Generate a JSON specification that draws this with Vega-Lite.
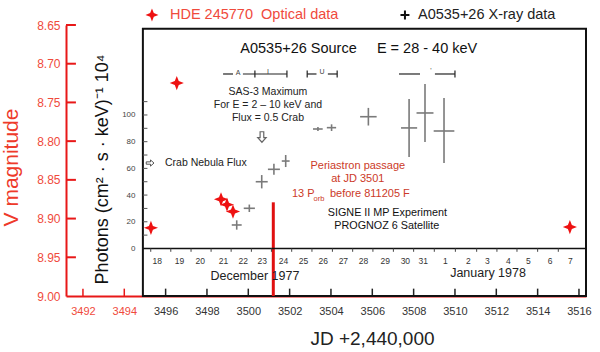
{
"$schema": "https://vega.github.io/schema/vega-lite/v6.json",
"width": 520, "height": 271,
"autosize": {"type": "none"},
"padding": {"left": 66, "top": 25, "right": 14, "bottom": 56},
"background": "white",
"config": {"font": "Liberation Sans", "view": {"stroke": null}, "axis": {"grid": false}},
"datasets": {
 "box": [{"jd": 3494.9, "jd2": 3516.34, "v": 8.655, "v2": 9.0}],
 "periastron": [{"jd": 3501.21, "v": 8.879, "v2": 9.0}],
 "vTicks": [{"jd": 3491.18, "jd2": 3491.66, "v": 8.65}, {"jd": 3491.18, "jd2": 3491.66, "v": 8.7}, {"jd": 3491.18, "jd2": 3491.66, "v": 8.75}, {"jd": 3491.18, "jd2": 3491.66, "v": 8.8}, {"jd": 3491.18, "jd2": 3491.66, "v": 8.85}, {"jd": 3491.18, "jd2": 3491.66, "v": 8.9}, {"jd": 3491.18, "jd2": 3491.66, "v": 8.95}],
 "xTicksRed": [{"jd": 3492, "v": 9.0, "v2": 8.9905}, {"jd": 3494, "v": 9.0, "v2": 8.9905}],
 "xTicksBlack": [{"jd": 3496, "v": 9.0, "v2": 8.9905}, {"jd": 3498, "v": 9.0, "v2": 8.9905}, {"jd": 3500, "v": 9.0, "v2": 8.9905}, {"jd": 3502, "v": 9.0, "v2": 8.9905}, {"jd": 3504, "v": 9.0, "v2": 8.9905}, {"jd": 3506, "v": 9.0, "v2": 8.9905}, {"jd": 3508, "v": 9.0, "v2": 8.9905}, {"jd": 3510, "v": 9.0, "v2": 8.9905}, {"jd": 3512, "v": 9.0, "v2": 8.9905}, {"jd": 3514, "v": 9.0, "v2": 8.9905}, {"jd": 3516, "v": 9.0, "v2": 8.9905}],
 "stars": [{"jd": 3495.29, "v": 8.912}, {"jd": 3496.54, "v": 8.725}, {"jd": 3498.68, "v": 8.875}, {"jd": 3498.97, "v": 8.882}, {"jd": 3499.26, "v": 8.891}, {"jd": 3515.56, "v": 8.911}],
 "legendStar": [{"jd": 3495.34, "v": 8.637}],
 "legendPlus": [{"jd": 3507.58, "v": 8.637}],
 "legendOptical": [{"jd": 3496.21, "v": 8.637, "label": "HDE 245770\u00a0\u00a0Optical data"}],
 "legendXray": [{"jd": 3508.21, "v": 8.637, "label": "A0535+26 X-ray data"}],
 "fTicks": [{"jd": 3494.9, "jd2": 3495.12, "f": 0}, {"jd": 3494.9, "jd2": 3495.12, "f": 10}, {"jd": 3494.9, "jd2": 3495.12, "f": 20}, {"jd": 3494.9, "jd2": 3495.12, "f": 30}, {"jd": 3494.9, "jd2": 3495.12, "f": 40}, {"jd": 3494.9, "jd2": 3495.12, "f": 50}, {"jd": 3494.9, "jd2": 3495.12, "f": 60}, {"jd": 3494.9, "jd2": 3495.12, "f": 70}, {"jd": 3494.9, "jd2": 3495.12, "f": 80}, {"jd": 3494.9, "jd2": 3495.12, "f": 90}, {"jd": 3494.9, "jd2": 3495.12, "f": 100}, {"jd": 3494.9, "jd2": 3495.12, "f": 110}],
 "xray": [
  {"jd": 3499.44, "f": 17.6, "jlo": 3499.2, "jhi": 3499.68, "flo": 14.1, "fhi": 21.1},
  {"jd": 3500.05, "f": 30.1, "jlo": 3499.78, "jhi": 3500.32, "flo": 27.3, "fhi": 32.9},
  {"jd": 3500.65, "f": 50.0, "jlo": 3500.36, "jhi": 3500.94, "flo": 45.0, "fhi": 55.0},
  {"jd": 3501.24, "f": 59.3, "jlo": 3500.95, "jhi": 3501.53, "flo": 55.2, "fhi": 63.4},
  {"jd": 3501.81, "f": 65.5, "jlo": 3501.62, "jhi": 3502.0, "flo": 61.0, "fhi": 70.0},
  {"jd": 3503.37, "f": 89.5, "jlo": 3503.13, "jhi": 3503.6, "flo": 88.0, "fhi": 91.0},
  {"jd": 3504.03, "f": 90.5, "jlo": 3503.8, "jhi": 3504.25, "flo": 88.0, "fhi": 93.0},
  {"jd": 3505.81, "f": 98.7, "jlo": 3505.41, "jhi": 3506.21, "flo": 92.1, "fhi": 105.3},
  {"jd": 3507.78, "f": 90.3, "jlo": 3507.39, "jhi": 3508.17, "flo": 68.6, "fhi": 112.0},
  {"jd": 3508.55, "f": 101.5, "jlo": 3508.14, "jhi": 3508.96, "flo": 79.8, "fhi": 123.2},
  {"jd": 3509.47, "f": 88.0, "jlo": 3508.97, "jhi": 3509.97, "flo": 64.0, "fhi": 112.7}
 ],
 "upperLimit": [{"jd": 3500.66, "f": 83.5}],
 "crab": [{"jd": 3495.25, "f": 64.0}],
 "crabText": [{"jd": 3495.97, "f": 63.9, "label": "Crab Nebula Flux"}],
 "titleText": [{"jd": 3502.43, "f": 149.4, "label": "A0535+26 Source"}, {"jd": 3508.65, "f": 149.4, "label": "E = 28 - 40 keV"}],
 "sasText": [{"jd": 3500.95, "f": 117.2, "label": "SAS-3 Maximum"}, {"jd": 3500.95, "f": 107.5, "label": "For E = 2 \u2013 10 keV and"}, {"jd": 3500.95, "f": 97.8, "label": "Flux = 0.5 Crab"}],
 "periText": [{"jd": 3505.3, "f": 61.8, "label": "Periastron passage"}, {"jd": 3505.3, "f": 52.0, "label": "at JD 3501"}],
 "periLeft": [{"jd": 3502.11, "f": 40.8, "label": "13 P"}, {"jd": 3503.95, "f": 40.8, "label": "before 811205 F"}],
 "periSub": [{"jd": 3503.16, "f": 37.0, "label": "orb"}],
 "signeText": [{"jd": 3506.73, "f": 26.6, "label": "SIGNE II MP Experiment"}, {"jd": 3506.7, "f": 16.9, "label": "PROGNOZ 6 Satellite"}],
 "innerAxis": [{"jd": 3494.9, "jd2": 3516.34, "f": 0}],
 "dayTicks": [{"jd": 3495.28, "f": 0, "f2": -2.5}, {"jd": 3496.25, "f": 0, "f2": -2.5}, {"jd": 3497.23, "f": 0, "f2": -2.5}, {"jd": 3498.2, "f": 0, "f2": -2.5}, {"jd": 3499.17, "f": 0, "f2": -2.5}, {"jd": 3500.15, "f": 0, "f2": -2.5}, {"jd": 3501.12, "f": 0, "f2": -2.5}, {"jd": 3502.1, "f": 0, "f2": -2.5}, {"jd": 3503.08, "f": 0, "f2": -2.5}, {"jd": 3504.07, "f": 0, "f2": -2.5}, {"jd": 3505.05, "f": 0, "f2": -2.5}, {"jd": 3506.03, "f": 0, "f2": -2.5}, {"jd": 3507.02, "f": 0, "f2": -2.5}, {"jd": 3508.0, "f": 0, "f2": -2.5}, {"jd": 3509.0, "f": 0, "f2": -2.5}, {"jd": 3510.02, "f": 0, "f2": -2.5}, {"jd": 3511.05, "f": 0, "f2": -2.5}, {"jd": 3512.03, "f": 0, "f2": -2.5}, {"jd": 3513.0, "f": 0, "f2": -2.5}, {"jd": 3514.0, "f": 0, "f2": -2.5}, {"jd": 3515.0, "f": 0, "f2": -2.5}],
 "dayLabels": [{"jd": 3495.6, "f": -9.4, "label": "18"}, {"jd": 3496.67, "f": -9.4, "label": "19"}, {"jd": 3497.68, "f": -9.4, "label": "20"}, {"jd": 3498.8, "f": -9.4, "label": "21"}, {"jd": 3499.76, "f": -9.4, "label": "22"}, {"jd": 3500.68, "f": -9.4, "label": "23"}, {"jd": 3501.7, "f": -9.4, "label": "24"}, {"jd": 3502.67, "f": -9.4, "label": "25"}, {"jd": 3503.63, "f": -9.4, "label": "26"}, {"jd": 3504.6, "f": -9.4, "label": "27"}, {"jd": 3505.57, "f": -9.4, "label": "28"}, {"jd": 3506.63, "f": -9.4, "label": "29"}, {"jd": 3507.6, "f": -9.4, "label": "30"}, {"jd": 3508.47, "f": -9.4, "label": "31"}, {"jd": 3509.54, "f": -9.4, "label": "1"}, {"jd": 3510.65, "f": -9.4, "label": "2"}, {"jd": 3511.57, "f": -9.4, "label": "3"}, {"jd": 3512.58, "f": -9.4, "label": "4"}, {"jd": 3513.55, "f": -9.4, "label": "5"}, {"jd": 3514.6, "f": -9.4, "label": "6"}, {"jd": 3515.58, "f": -9.4, "label": "7"}],
 "monthLabels": [{"jd": 3500.32, "f": -20.4, "label": "December 1977"}, {"jd": 3511.6, "f": -18.6, "label": "January 1978"}],
 "bracketSeg": [{"jd": 3498.78, "jd2": 3499.26, "f": 130.7}, {"jd": 3499.74, "jd2": 3501.87, "f": 130.7}, {"jd": 3502.85, "jd2": 3503.3, "f": 130.7}, {"jd": 3503.85, "jd2": 3504.3, "f": 130.7}, {"jd": 3507.29, "jd2": 3508.31, "f": 130.7}, {"jd": 3509.03, "jd2": 3510.0, "f": 130.7}],
 "bracketTicks": [{"jd": 3500.32, "f": 128.1, "f2": 133.3}, {"jd": 3501.87, "f": 128.1, "f2": 133.3}, {"jd": 3502.85, "f": 128.1, "f2": 133.3}, {"jd": 3504.3, "f": 128.1, "f2": 133.3}, {"jd": 3510.0, "f": 128.1, "f2": 133.3}],
 "bracketLabels": [{"jd": 3499.5, "f": 131.5, "label": "A"}, {"jd": 3500.95, "f": 132.5, "label": "I"}, {"jd": 3503.57, "f": 132.5, "label": "U"}, {"jd": 3508.84, "f": 133.0, "label": "'"}]
},
"encoding": {
 "x": {"field": "jd", "type": "quantitative",
  "scale": {"domain": [3491.18, 3516.34], "nice": false, "zero": false},
  "axis": {"values": [3492, 3494, 3496, 3498, 3500, 3502, 3504, 3506, 3508, 3510, 3512, 3514, 3516], "format": "d",
   "domainColor": "#e81818", "domainWidth": 2, "ticks": false,
   "labelColor": {"condition": {"test": "datum.value < 3495", "value": "#f04a3c"}, "value": "#333"},
   "labelFontSize": 11, "labelPadding": 9, "labelFlush": false,
   "title": "JD +2,440,000", "titleFontSize": 19, "titleFontWeight": "normal", "titleColor": "#222",
   "titleX": 306, "titleY": 42, "titleBaseline": "middle", "titleAlign": "center"}}
},
"layer": [
 {
  "encoding": {"y": {"field": "v", "type": "quantitative",
   "scale": {"domain": [8.65, 9.0], "reverse": true, "nice": false, "zero": false},
   "axis": {"orient": "left", "values": [8.65, 8.7, 8.75, 8.8, 8.85, 8.9, 8.95, 9.0], "format": ".2f",
    "domainColor": "#e81818", "domainWidth": 2, "ticks": false,
    "labelPadding": 6, "labelColor": "#f04a3c", "labelFontSize": 12,
    "title": "V magnitude", "titleColor": "#ee3a2a", "titleFontSize": 21, "titleFontWeight": "normal",
    "titleX": -55, "titleY": 142, "titleAngle": -90, "titleAlign": "center", "titleBaseline": "middle"}}},
  "layer": [
   {"data": {"name": "vTicks"}, "mark": {"type": "rule", "color": "#e81818", "strokeWidth": 2},
    "encoding": {"x2": {"field": "jd2"}}},
   {"data": {"name": "xTicksRed"}, "mark": {"type": "rule", "color": "#e81818", "strokeWidth": 1.5},
    "encoding": {"y2": {"field": "v2"}}},
   {"data": {"name": "xTicksBlack"}, "mark": {"type": "rule", "color": "#222", "strokeWidth": 1.5},
    "encoding": {"y2": {"field": "v2"}}},
   {"data": {"name": "box"}, "mark": {"type": "rect", "filled": false, "stroke": "#111", "strokeWidth": 2},
    "encoding": {"x2": {"field": "jd2"}, "y2": {"field": "v2"}}},
   {"data": {"name": "periastron"}, "mark": {"type": "rule", "color": "#e01010", "strokeWidth": 3},
    "encoding": {"y2": {"field": "v2"}}},
   {"data": {"name": "stars"}, "mark": {"type": "point", "shape": "M0,-1L0.28,-0.28L1,0L0.28,0.28L0,1L-0.28,0.28L-1,0L-0.28,-0.28Z", "filled": true, "color": "#ee1111", "opacity": 1, "size": 200},
    "encoding": {}},
   {"data": {"name": "legendStar"}, "mark": {"type": "point", "shape": "M0,-1L0.28,-0.28L1,0L0.28,0.28L0,1L-0.28,0.28L-1,0L-0.28,-0.28Z", "filled": true, "color": "#ee1111", "opacity": 1, "size": 170},
    "encoding": {}},
   {"data": {"name": "legendPlus"}, "mark": {"type": "point", "shape": "M-1,0L1,0M0,-1L0,1", "filled": false, "color": "#111", "strokeWidth": 2, "opacity": 1, "size": 80},
    "encoding": {}},
   {"data": {"name": "legendOptical"}, "mark": {"type": "text", "align": "left", "baseline": "middle", "fontSize": 14.5, "color": "#f04a3c"},
    "encoding": {"text": {"field": "label"}}},
   {"data": {"name": "legendXray"}, "mark": {"type": "text", "align": "left", "baseline": "middle", "fontSize": 14.5, "color": "#222"},
    "encoding": {"text": {"field": "label"}}}
  ]
 },
 {
  "encoding": {"y": {"field": "f", "type": "quantitative",
   "scale": {"domain": [-35.6, 167.4], "nice": false, "zero": false},
   "axis": {"orient": "left", "offset": -77, "values": [0, 20, 40, 60, 80, 100],
    "domain": false, "ticks": false, "labelFontSize": 8, "labelColor": "#444", "labelPadding": 8,
    "title": "Photons (cm\u00b2 \u00b7 s \u00b7 keV)\u207b\u00b9 10\u2074", "titleFontSize": 18, "titleFontWeight": "normal", "titleColor": "#111",
    "titleX": -41, "titleY": 144, "titleAngle": -90, "titleAlign": "center", "titleBaseline": "middle"}}},
  "layer": [
   {"data": {"name": "fTicks"}, "mark": {"type": "rule", "color": "#555", "strokeWidth": 1},
    "encoding": {"x2": {"field": "jd2"}}},
   {"data": {"name": "innerAxis"}, "mark": {"type": "rule", "color": "#111", "strokeWidth": 1.5},
    "encoding": {"x2": {"field": "jd2"}}},
   {"data": {"name": "dayTicks"}, "mark": {"type": "rule", "color": "#444", "strokeWidth": 1},
    "encoding": {"y2": {"field": "f2"}}},
   {"data": {"name": "xray"}, "mark": {"type": "rule", "color": "#7a7a7a", "strokeWidth": 1.6},
    "encoding": {"y": {"field": "flo", "type": "quantitative"}, "y2": {"field": "fhi"}}},
   {"data": {"name": "xray"}, "mark": {"type": "rule", "color": "#7a7a7a", "strokeWidth": 1.6},
    "encoding": {"x": {"field": "jlo", "type": "quantitative"}, "x2": {"field": "jhi"}}},
   {"data": {"name": "upperLimit"}, "mark": {"type": "point", "shape": "M-0.35,-1L0.35,-1L0.35,0.1L0.8,0.1L0,1L-0.8,0.1L-0.35,0.1Z", "filled": false, "color": "#666", "strokeWidth": 1.2, "opacity": 1, "size": 110},
    "encoding": {}},
   {"data": {"name": "crab"}, "mark": {"type": "point", "shape": "M-1,-0.3L0.1,-0.3L0.1,-0.8L1,0L0.1,0.8L0.1,0.3L-1,0.3Z", "filled": false, "color": "#555", "strokeWidth": 1, "opacity": 1, "size": 60},
    "encoding": {}},
   {"data": {"name": "crabText"}, "mark": {"type": "text", "align": "left", "baseline": "middle", "fontSize": 10.5, "color": "#222"},
    "encoding": {"text": {"field": "label"}}},
   {"data": {"name": "titleText"}, "mark": {"type": "text", "align": "center", "baseline": "middle", "fontSize": 14.5, "color": "#111"},
    "encoding": {"text": {"field": "label"}}},
   {"data": {"name": "sasText"}, "mark": {"type": "text", "align": "center", "baseline": "middle", "fontSize": 10.5, "color": "#222"},
    "encoding": {"text": {"field": "label"}}},
   {"data": {"name": "periText"}, "mark": {"type": "text", "align": "center", "baseline": "middle", "fontSize": 11, "color": "#cc3a28"},
    "encoding": {"text": {"field": "label"}}},
   {"data": {"name": "periLeft"}, "mark": {"type": "text", "align": "left", "baseline": "middle", "fontSize": 11, "color": "#cc3a28"},
    "encoding": {"text": {"field": "label"}}},
   {"data": {"name": "periSub"}, "mark": {"type": "text", "align": "left", "baseline": "middle", "fontSize": 7.5, "color": "#cc3a28"},
    "encoding": {"text": {"field": "label"}}},
   {"data": {"name": "signeText"}, "mark": {"type": "text", "align": "center", "baseline": "middle", "fontSize": 10.8, "color": "#111"},
    "encoding": {"text": {"field": "label"}}},
   {"data": {"name": "dayLabels"}, "mark": {"type": "text", "align": "center", "baseline": "middle", "fontSize": 8.5, "color": "#333"},
    "encoding": {"text": {"field": "label"}}},
   {"data": {"name": "monthLabels"}, "mark": {"type": "text", "align": "center", "baseline": "middle", "fontSize": 12.5, "color": "#222"},
    "encoding": {"text": {"field": "label"}}},
   {"data": {"name": "bracketSeg"}, "mark": {"type": "rule", "color": "#222", "strokeWidth": 1.2},
    "encoding": {"x2": {"field": "jd2"}}},
   {"data": {"name": "bracketTicks"}, "mark": {"type": "rule", "color": "#222", "strokeWidth": 1.2},
    "encoding": {"y2": {"field": "f2"}}},
   {"data": {"name": "bracketLabels"}, "mark": {"type": "text", "align": "center", "baseline": "middle", "fontSize": 7, "color": "#444"},
    "encoding": {"text": {"field": "label"}}}
  ]
 }
],
"resolve": {"scale": {"y": "independent"}, "axis": {"y": "independent"}}
}
